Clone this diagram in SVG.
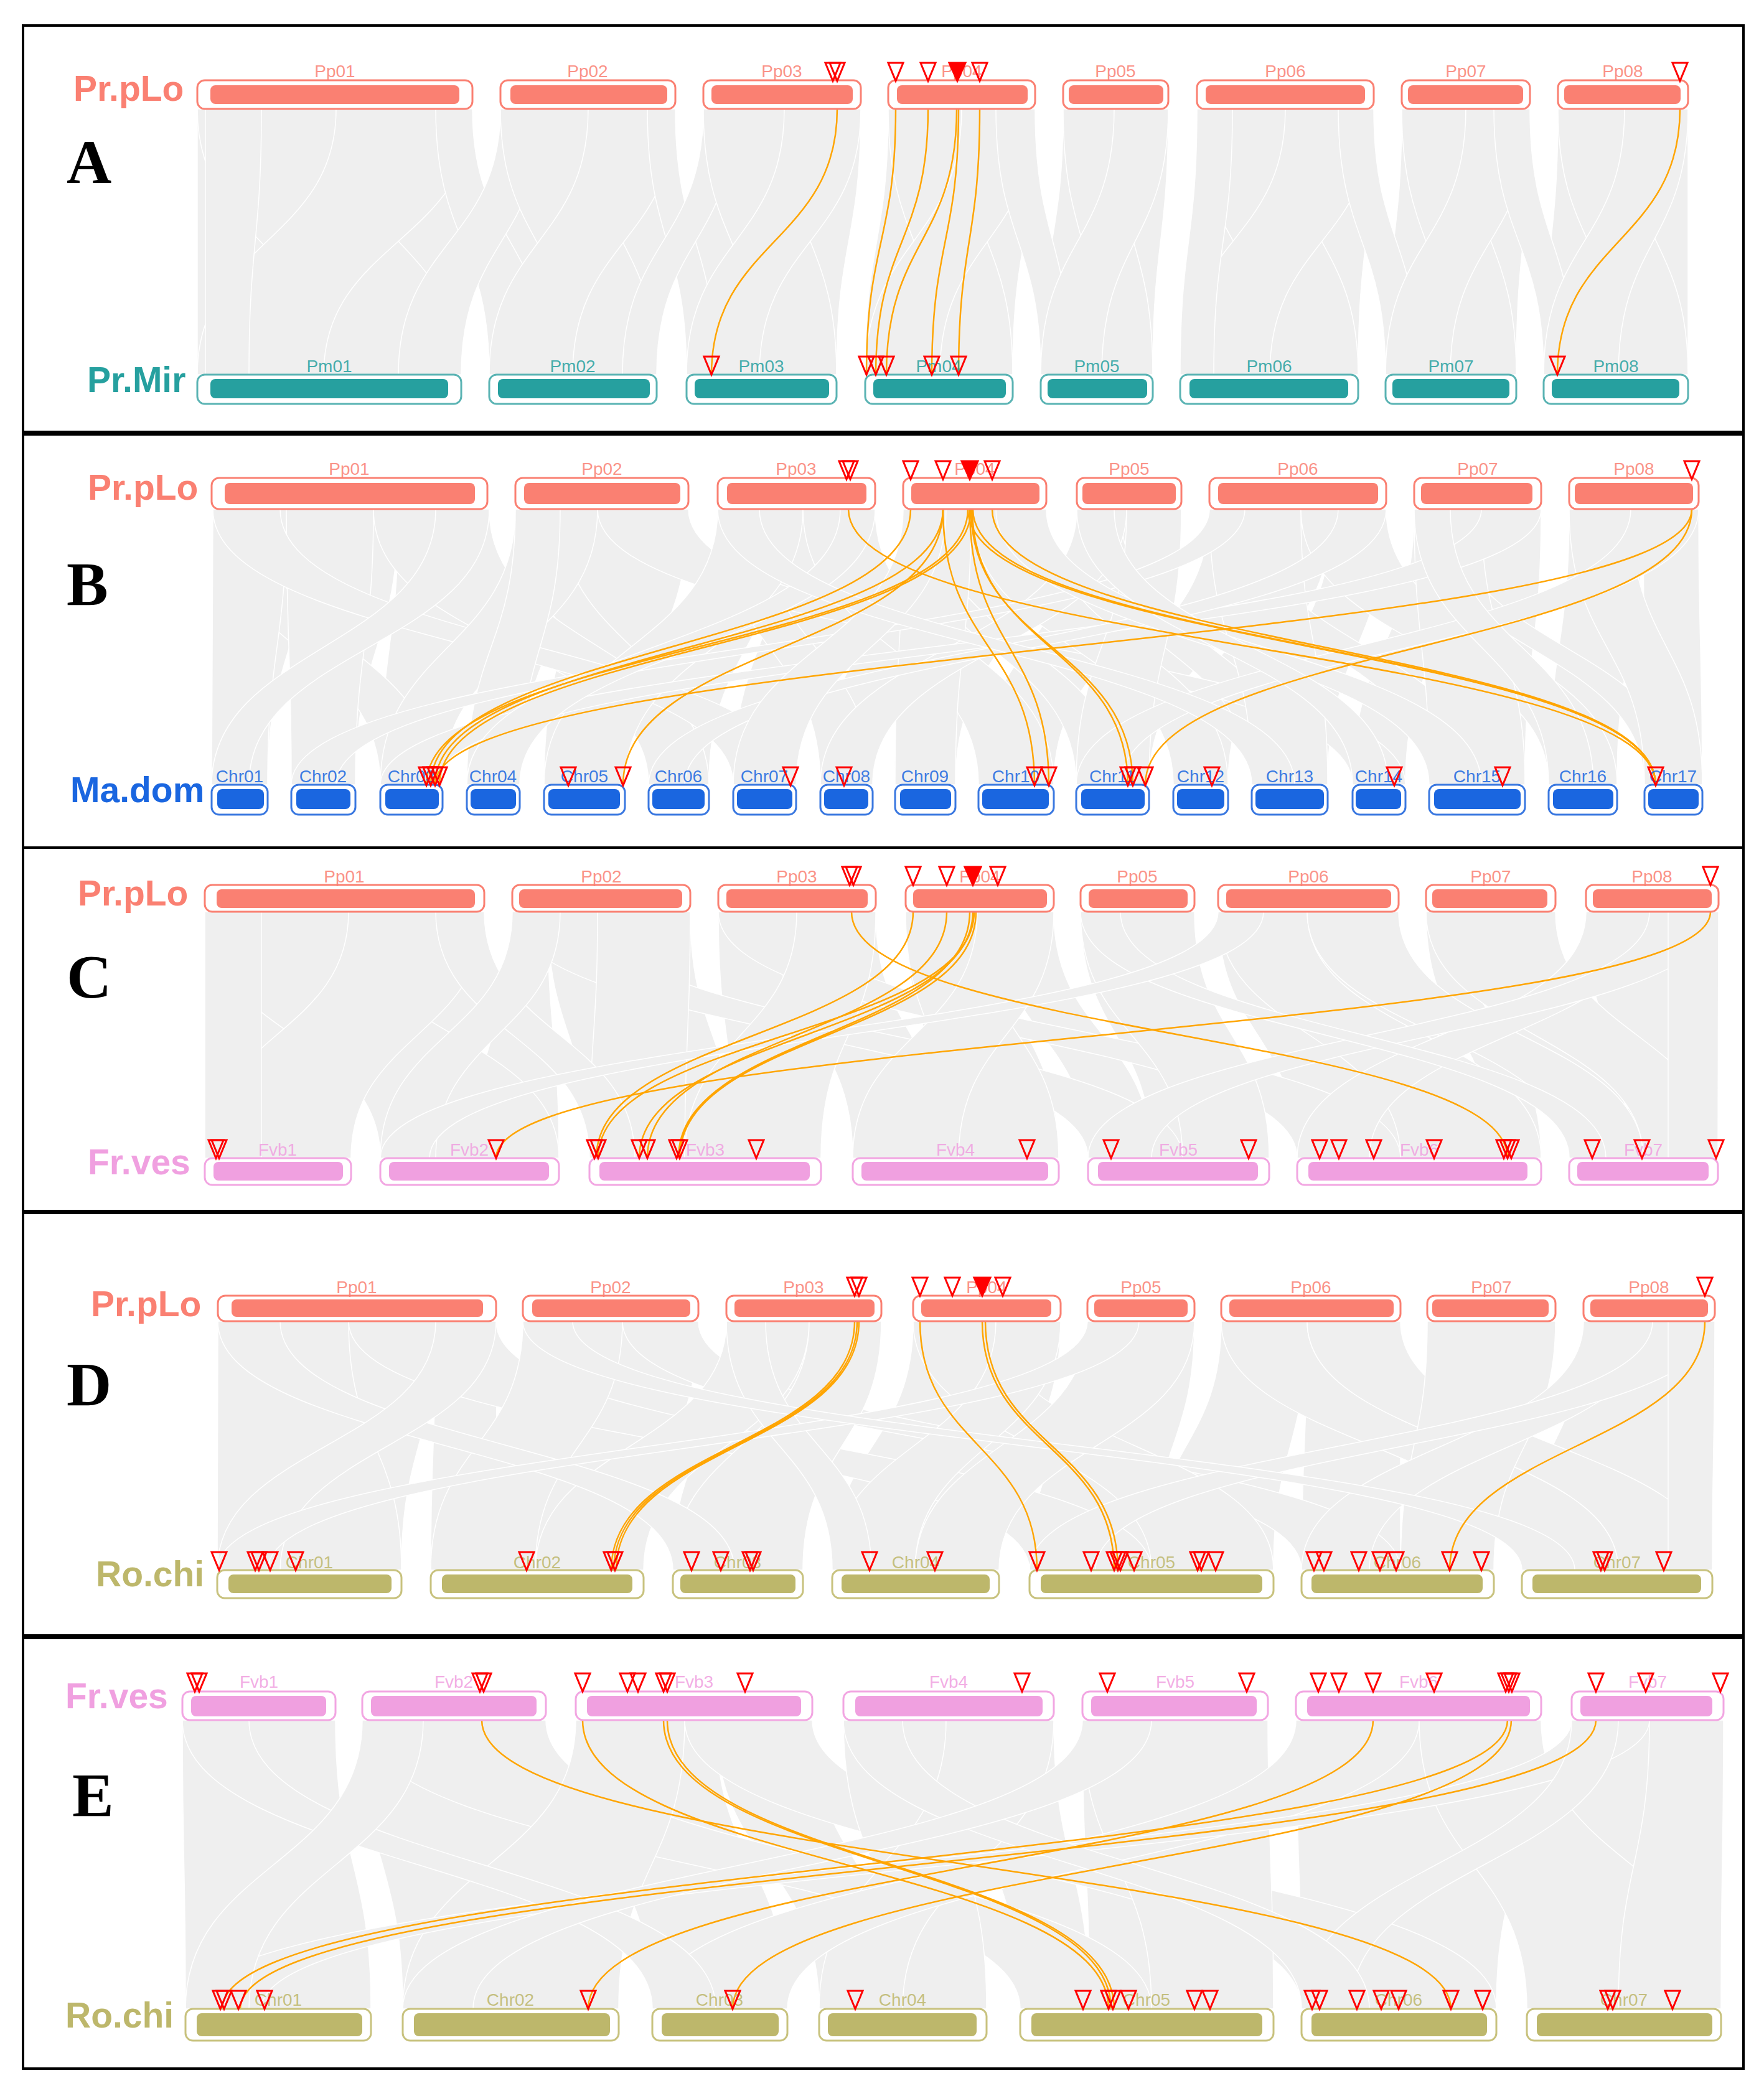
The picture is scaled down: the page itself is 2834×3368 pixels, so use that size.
<svg xmlns="http://www.w3.org/2000/svg" xmlns:xlink="http://www.w3.org/1999/xlink" width="2834" height="3368" viewBox="0 0 2834 3368">
<style>
.rib{fill:#efefef;stroke:#fff;stroke-width:1.5}
.ol{fill:none;stroke:#FFA500;stroke-width:2.5}
.box{fill:none;stroke:#000;stroke-width:4}
.pl{font-family:"Liberation Serif","Times New Roman",serif;font-weight:bold;font-size:100px;fill:#000}
.sp{font-family:"Liberation Sans",Arial,sans-serif;font-weight:bold;font-size:57px}
.o{fill:#fff;stroke-width:3}
text.cl{font-family:"Liberation Sans",Arial,sans-serif;font-size:28px;text-anchor:middle;fill-opacity:0.85}
.pp .o{stroke:#FA8072}.pp .i,.pp text{fill:#FA8072}
.pm .o{stroke:#5AB3B3}.pm .i,.pm text{fill:#26A09F}
.md .o{stroke:#3A78E0}.md .i,.md text{fill:#1A66E0}
.fv .o{stroke:#F2A6E2}.fv .i,.fv text{fill:#F0A0E0}
.rc .o{stroke:#C8C27E}.rc .i,.rc text{fill:#BDB76B}
</style>
<defs>
<path id="t" d="M-12,-29H12L0,0Z" fill="none" stroke="#f00" stroke-width="3"/>
<path id="tf" d="M-13,-29H13L0,0Z" fill="#f00" stroke="#f00" stroke-width="3"/>
</defs>
<rect width="2834" height="3368" fill="#fff"/>

<g id="ribbons">
<g id="ribbons-A">
<path class="rib" d="M317,175C317,388 317,388 317,602L741,602C741,388 759,388 759,175Z"/>
<path class="rib" d="M804,175C804,388 786,388 786,602L1055,602C1055,388 1085,388 1085,175Z"/>
<path class="rib" d="M1130,175C1130,388 1103,388 1103,602L1344,602C1344,388 1383,388 1383,175Z"/>
<path class="rib" d="M1427,175C1427,388 1390,388 1390,602L1627,602C1627,388 1663,388 1663,175Z"/>
<path class="rib" d="M1708,175C1708,388 1672,388 1672,602L1852,602C1852,388 1877,388 1877,175Z"/>
<path class="rib" d="M1923,175C1923,388 1896,388 1896,602L2182,602C2182,388 2207,388 2207,175Z"/>
<path class="rib" d="M2252,175C2252,388 2226,388 2226,602L2436,602C2436,388 2458,388 2458,175Z"/>
<path class="rib" d="M2503,175C2503,388 2480,388 2480,602L2712,602C2712,388 2712,388 2712,175Z"/>
<path class="rib" d="M317,175C317,388 520,388 520,602L741,602C741,388 540,388 540,175Z"/>
<path class="rib" d="M540,175C540,388 317,388 317,602L520,602C520,388 759,388 759,175Z"/>
<path class="rib" d="M330,175C330,388 330,388 330,602L400,602C400,388 420,388 420,175Z"/>
<path class="rib" d="M700,175C700,388 786,388 786,602L880,602C880,388 759,388 759,175Z"/>
<path class="rib" d="M804,175C804,388 640,388 640,602L741,602C741,388 870,388 870,175Z"/>
<path class="rib" d="M804,175C804,388 920,388 920,602L1055,602C1055,388 945,388 945,175Z"/>
<path class="rib" d="M945,175C945,388 786,388 786,602L920,602C920,388 1085,388 1085,175Z"/>
<path class="rib" d="M1040,175C1040,388 1103,388 1103,602L1150,602C1150,388 1085,388 1085,175Z"/>
<path class="rib" d="M1130,175C1130,388 1000,388 1000,602L1055,602C1055,388 1180,388 1180,175Z"/>
<path class="rib" d="M1130,175C1130,388 1220,388 1220,602L1344,602C1344,388 1260,388 1260,175Z"/>
<path class="rib" d="M1260,175C1260,388 1103,388 1103,602L1220,602C1220,388 1383,388 1383,175Z"/>
<path class="rib" d="M1427,175C1427,388 1510,388 1510,602L1627,602C1627,388 1545,388 1545,175Z"/>
<path class="rib" d="M1545,175C1545,388 1390,388 1390,602L1510,602C1510,388 1663,388 1663,175Z"/>
<path class="rib" d="M1600,175C1600,388 1672,388 1672,602L1720,602C1720,388 1663,388 1663,175Z"/>
<path class="rib" d="M1708,175C1708,388 1770,388 1770,602L1852,602C1852,388 1790,388 1790,175Z"/>
<path class="rib" d="M1790,175C1790,388 1672,388 1672,602L1770,602C1770,388 1877,388 1877,175Z"/>
<path class="rib" d="M1923,175C1923,388 2040,388 2040,602L2182,602C2182,388 2065,388 2065,175Z"/>
<path class="rib" d="M2065,175C2065,388 1896,388 1896,602L2040,602C2040,388 2207,388 2207,175Z"/>
<path class="rib" d="M1923,175C1923,388 1896,388 1896,602L1950,602C1950,388 1980,388 1980,175Z"/>
<path class="rib" d="M2150,175C2150,388 2226,388 2226,602L2280,602C2280,388 2207,388 2207,175Z"/>
<path class="rib" d="M2252,175C2252,388 2330,388 2330,602L2436,602C2436,388 2355,388 2355,175Z"/>
<path class="rib" d="M2355,175C2355,388 2226,388 2226,602L2330,602C2330,388 2458,388 2458,175Z"/>
<path class="rib" d="M2400,175C2400,388 2480,388 2480,602L2530,602C2530,388 2458,388 2458,175Z"/>
<path class="rib" d="M2503,175C2503,388 2600,388 2600,602L2712,602C2712,388 2610,388 2610,175Z"/>
<path class="rib" d="M2610,175C2610,388 2480,388 2480,602L2600,602C2600,388 2712,388 2712,175Z"/>
</g>
<g id="ribbons-B">
<path class="rib" d="M360,818C360,1040 340,1040 340,1261L430,1261C430,1040 500,1040 500,818Z"/>
<path class="rib" d="M500,818C500,1040 468,1040 468,1261L571,1261C571,1040 640,1040 640,818Z"/>
<path class="rib" d="M640,818C640,1040 611,1040 611,1261L711,1261C711,1040 783,1040 783,818Z"/>
<path class="rib" d="M828,818C828,1040 750,1040 750,1261L835,1261C835,1040 930,1040 930,818Z"/>
<path class="rib" d="M930,818C930,1040 874,1040 874,1261L1004,1261C1004,1040 1106,1040 1106,818Z"/>
<path class="rib" d="M1153,818C1153,1040 1042,1040 1042,1261L1139,1261C1139,1040 1260,1040 1260,818Z"/>
<path class="rib" d="M1260,818C1260,1040 1178,1040 1178,1261L1279,1261C1279,1040 1406,1040 1406,818Z"/>
<path class="rib" d="M1451,818C1451,1040 1318,1040 1318,1261L1402,1261C1402,1040 1540,1040 1540,818Z"/>
<path class="rib" d="M1540,818C1540,1040 1438,1040 1438,1261L1535,1261C1535,1040 1681,1040 1681,818Z"/>
<path class="rib" d="M1730,818C1730,1040 1572,1040 1572,1261L1693,1261C1693,1040 1898,1040 1898,818Z"/>
<path class="rib" d="M1943,818C1943,1040 1729,1040 1729,1261L1846,1261C1846,1040 2060,1040 2060,818Z"/>
<path class="rib" d="M2060,818C2060,1040 1885,1040 1885,1261L1973,1261C1973,1040 2140,1040 2140,818Z"/>
<path class="rib" d="M2140,818C2140,1040 2011,1040 2011,1261L2133,1261C2133,1040 2227,1040 2227,818Z"/>
<path class="rib" d="M2272,818C2272,1040 2173,1040 2173,1261L2258,1261C2258,1040 2360,1040 2360,818Z"/>
<path class="rib" d="M2360,818C2360,1040 2296,1040 2296,1261L2450,1261C2450,1040 2476,1040 2476,818Z"/>
<path class="rib" d="M2521,818C2521,1040 2488,1040 2488,1261L2598,1261C2598,1040 2640,1040 2640,818Z"/>
<path class="rib" d="M2640,818C2640,1040 2642,1040 2642,1261L2735,1261C2735,1040 2729,1040 2729,818Z"/>
<path class="rib" d="M342,818C342,1040 611,1040 611,1261L700,1261C700,1040 420,1040 420,818Z"/>
<path class="rib" d="M828,818C828,1040 1042,1040 1042,1261L1130,1261C1130,1040 900,1040 900,818Z"/>
<path class="rib" d="M1153,818C1153,1040 1318,1040 1318,1261L1400,1261C1400,1040 1220,1040 1220,818Z"/>
<path class="rib" d="M1451,818C1451,1040 1729,1040 1729,1261L1800,1261C1800,1040 1500,1040 1500,818Z"/>
<path class="rib" d="M1730,818C1730,1040 2011,1040 2011,1261L2090,1261C2090,1040 1800,1040 1800,818Z"/>
<path class="rib" d="M1943,818C1943,1040 2296,1040 2296,1261L2380,1261C2380,1040 2010,1040 2010,818Z"/>
<path class="rib" d="M2272,818C2272,1040 2642,1040 2642,1261L2700,1261C2700,1040 2330,1040 2330,818Z"/>
<path class="rib" d="M342,818C342,1040 340,1040 340,1261L430,1261C430,1040 460,1040 460,818Z"/>
<path class="rib" d="M460,818C460,1040 468,1040 468,1261L571,1261C571,1040 600,1040 600,818Z"/>
<path class="rib" d="M600,818C600,1040 1042,1040 1042,1261L1139,1261C1139,1040 786,1040 786,818Z"/>
<path class="rib" d="M342,818C342,1040 1178,1040 1178,1261L1279,1261C1279,1040 450,1040 450,818Z"/>
<path class="rib" d="M828,818C828,1040 611,1040 611,1261L711,1261C711,1040 960,1040 960,818Z"/>
<path class="rib" d="M960,818C960,1040 2173,1040 2173,1261L2258,1261C2258,1040 1106,1040 1106,818Z"/>
<path class="rib" d="M828,818C828,1040 750,1040 750,1261L835,1261C835,1040 900,1040 900,818Z"/>
<path class="rib" d="M1153,818C1153,1040 874,1040 874,1261L1004,1261C1004,1040 1290,1040 1290,818Z"/>
<path class="rib" d="M1290,818C1290,1040 1572,1040 1572,1261L1693,1261C1693,1040 1406,1040 1406,818Z"/>
<path class="rib" d="M1451,818C1451,1040 1438,1040 1438,1261L1535,1261C1535,1040 1560,1040 1560,818Z"/>
<path class="rib" d="M1560,818C1560,1040 1885,1040 1885,1261L1973,1261C1973,1040 1681,1040 1681,818Z"/>
<path class="rib" d="M1730,818C1730,1040 1318,1040 1318,1261L1402,1261C1402,1040 1810,1040 1810,818Z"/>
<path class="rib" d="M1810,818C1810,1040 1729,1040 1729,1261L1846,1261C1846,1040 1898,1040 1898,818Z"/>
<path class="rib" d="M1943,818C1943,1040 2011,1040 2011,1261L2133,1261C2133,1040 2090,1040 2090,818Z"/>
<path class="rib" d="M2090,818C2090,1040 2488,1040 2488,1261L2598,1261C2598,1040 2227,1040 2227,818Z"/>
<path class="rib" d="M1943,818C1943,1040 468,1040 468,1261L540,1261C540,1040 2000,1040 2000,818Z"/>
<path class="rib" d="M2272,818C2272,1040 2296,1040 2296,1261L2450,1261C2450,1040 2380,1040 2380,818Z"/>
<path class="rib" d="M2380,818C2380,1040 611,1040 611,1261L700,1261C700,1040 2476,1040 2476,818Z"/>
<path class="rib" d="M2521,818C2521,1040 2642,1040 2642,1261L2735,1261C2735,1040 2620,1040 2620,818Z"/>
<path class="rib" d="M2620,818C2620,1040 1729,1040 1729,1261L1800,1261C1800,1040 2729,1040 2729,818Z"/>
<path class="rib" d="M700,818C700,1040 340,1040 340,1261L400,1261C400,1040 786,1040 786,818Z"/>
<path class="rib" d="M1350,818C1350,1040 750,1040 750,1261L835,1261C835,1040 1406,1040 1406,818Z"/>
<path class="rib" d="M2150,818C2150,1040 1042,1040 1042,1261L1100,1261C1100,1040 2227,1040 2227,818Z"/>
<path class="rib" d="M1600,818C1600,1040 2296,1040 2296,1261L2380,1261C2380,1040 1681,1040 1681,818Z"/>
<path class="rib" d="M1451,818C1451,1040 1178,1040 1178,1261L1279,1261C1279,1040 1520,1040 1520,818Z"/>
<path class="rib" d="M2272,818C2272,1040 2488,1040 2488,1261L2560,1261C2560,1040 2330,1040 2330,818Z"/>
<path class="rib" d="M1153,818C1153,1040 2011,1040 2011,1261L2080,1261C2080,1040 1220,1040 1220,818Z"/>
<path class="rib" d="M1730,818C1730,1040 2173,1040 2173,1261L2230,1261C2230,1040 1790,1040 1790,818Z"/>
</g>
<g id="ribbons-C">
<path class="rib" d="M329,1465C329,1663 329,1663 329,1861L564,1861C564,1663 560,1663 560,1465Z"/>
<path class="rib" d="M600,1465C600,1663 611,1663 611,1861L760,1861C760,1663 778,1663 778,1465Z"/>
<path class="rib" d="M823,1465C823,1663 760,1663 760,1861L898,1861C898,1663 880,1663 880,1465Z"/>
<path class="rib" d="M880,1465C880,1663 947,1663 947,1861L1180,1861C1180,1663 1109,1663 1109,1465Z"/>
<path class="rib" d="M1154,1465C1154,1663 1180,1663 1180,1861L1319,1861C1319,1663 1250,1663 1250,1465Z"/>
<path class="rib" d="M1250,1465C1250,1663 1370,1663 1370,1861L1520,1861C1520,1663 1407,1663 1407,1465Z"/>
<path class="rib" d="M1455,1465C1455,1663 1520,1663 1520,1861L1701,1861C1701,1663 1600,1663 1600,1465Z"/>
<path class="rib" d="M1600,1465C1600,1663 1748,1663 1748,1861L1850,1861C1850,1663 1693,1663 1693,1465Z"/>
<path class="rib" d="M1736,1465C1736,1663 1850,1663 1850,1861L2039,1861C2039,1663 1919,1663 1919,1465Z"/>
<path class="rib" d="M1957,1465C1957,1663 2084,1663 2084,1861L2400,1861C2400,1663 2247,1663 2247,1465Z"/>
<path class="rib" d="M2291,1465C2291,1663 2400,1663 2400,1861L2476,1861C2476,1663 2350,1663 2350,1465Z"/>
<path class="rib" d="M2350,1465C2350,1663 2521,1663 2521,1861L2620,1861C2620,1663 2499,1663 2499,1465Z"/>
<path class="rib" d="M2548,1465C2548,1663 2620,1663 2620,1861L2760,1861C2760,1663 2761,1663 2761,1465Z"/>
<path class="rib" d="M329,1465C329,1663 611,1663 611,1861L898,1861C898,1663 560,1663 560,1465Z"/>
<path class="rib" d="M560,1465C560,1663 329,1663 329,1861L564,1861C564,1663 778,1663 778,1465Z"/>
<path class="rib" d="M823,1465C823,1663 1748,1663 1748,1861L1900,1861C1900,1663 960,1663 960,1465Z"/>
<path class="rib" d="M960,1465C960,1663 947,1663 947,1861L1100,1861C1100,1663 1109,1663 1109,1465Z"/>
<path class="rib" d="M1154,1465C1154,1663 2084,1663 2084,1861L2250,1861C2250,1663 1280,1663 1280,1465Z"/>
<path class="rib" d="M1280,1465C1280,1663 1100,1663 1100,1861L1319,1861C1319,1663 1407,1663 1407,1465Z"/>
<path class="rib" d="M1455,1465C1455,1663 1540,1663 1540,1861L1701,1861C1701,1663 1570,1663 1570,1465Z"/>
<path class="rib" d="M1570,1465C1570,1663 1370,1663 1370,1861L1540,1861C1540,1663 1693,1663 1693,1465Z"/>
<path class="rib" d="M1736,1465C1736,1663 1900,1663 1900,1861L2039,1861C2039,1663 1919,1663 1919,1465Z"/>
<path class="rib" d="M1957,1465C1957,1663 2250,1663 2250,1861L2476,1861C2476,1663 2100,1663 2100,1465Z"/>
<path class="rib" d="M2100,1465C2100,1663 2521,1663 2521,1861L2640,1861C2640,1663 2247,1663 2247,1465Z"/>
<path class="rib" d="M2291,1465C2291,1663 2640,1663 2640,1861L2760,1861C2760,1663 2499,1663 2499,1465Z"/>
<path class="rib" d="M2548,1465C2548,1663 2084,1663 2084,1861L2200,1861C2200,1663 2650,1663 2650,1465Z"/>
<path class="rib" d="M2650,1465C2650,1663 1748,1663 1748,1861L1850,1861C1850,1663 2761,1663 2761,1465Z"/>
<path class="rib" d="M329,1465C329,1663 329,1663 329,1861L420,1861C420,1663 420,1663 420,1465Z"/>
<path class="rib" d="M700,1465C700,1663 947,1663 947,1861L1020,1861C1020,1663 778,1663 778,1465Z"/>
<path class="rib" d="M1736,1465C1736,1663 2521,1663 2521,1861L2580,1861C2580,1663 1800,1663 1800,1465Z"/>
<path class="rib" d="M2680,1465C2680,1663 2680,1663 2680,1861L2760,1861C2760,1663 2761,1663 2761,1465Z"/>
<path class="rib" d="M823,1465C823,1663 611,1663 611,1861L700,1861C700,1663 900,1663 900,1465Z"/>
<path class="rib" d="M1957,1465C1957,1663 611,1663 611,1861L690,1861C690,1663 2030,1663 2030,1465Z"/>
</g>
<g id="ribbons-D">
<path class="rib" d="M350,2123C350,2323 349,2323 349,2523L645,2523C645,2323 700,2323 700,2123Z"/>
<path class="rib" d="M700,2123C700,2323 692,2323 692,2523L800,2523C800,2323 797,2323 797,2123Z"/>
<path class="rib" d="M840,2123C840,2323 800,2323 800,2523L1034,2523C1034,2323 1122,2323 1122,2123Z"/>
<path class="rib" d="M1167,2123C1167,2323 1081,2323 1081,2523L1290,2523C1290,2323 1416,2323 1416,2123Z"/>
<path class="rib" d="M1467,2123C1467,2323 1337,2323 1337,2523L1605,2523C1605,2323 1704,2323 1704,2123Z"/>
<path class="rib" d="M1747,2123C1747,2323 1654,2323 1654,2523L1850,2523C1850,2323 1919,2323 1919,2123Z"/>
<path class="rib" d="M1962,2123C1962,2323 1850,2323 1850,2523L2046,2523C2046,2323 2100,2323 2100,2123Z"/>
<path class="rib" d="M2100,2123C2100,2323 2091,2323 2091,2523L2250,2523C2250,2323 2250,2323 2250,2123Z"/>
<path class="rib" d="M2293,2123C2293,2323 2250,2323 2250,2523L2400,2523C2400,2323 2499,2323 2499,2123Z"/>
<path class="rib" d="M2544,2123C2544,2323 2445,2323 2445,2523L2751,2523C2751,2323 2755,2323 2755,2123Z"/>
<path class="rib" d="M350,2123C350,2323 349,2323 349,2523L645,2523C645,2323 560,2323 560,2123Z"/>
<path class="rib" d="M560,2123C560,2323 1654,2323 1654,2523L1850,2523C1850,2323 797,2323 797,2123Z"/>
<path class="rib" d="M840,2123C840,2323 692,2323 692,2523L860,2523C860,2323 1000,2323 1000,2123Z"/>
<path class="rib" d="M1000,2123C1000,2323 2091,2323 2091,2523L2250,2523C2250,2323 1122,2323 1122,2123Z"/>
<path class="rib" d="M1167,2123C1167,2323 860,2323 860,2523L1034,2523C1034,2323 1300,2323 1300,2123Z"/>
<path class="rib" d="M1300,2123C1300,2323 1081,2323 1081,2523L1290,2523C1290,2323 1416,2323 1416,2123Z"/>
<path class="rib" d="M1467,2123C1467,2323 1850,2323 1850,2523L2046,2523C2046,2323 1600,2323 1600,2123Z"/>
<path class="rib" d="M1600,2123C1600,2323 1337,2323 1337,2523L1470,2523C1470,2323 1704,2323 1704,2123Z"/>
<path class="rib" d="M1747,2123C1747,2323 1470,2323 1470,2523L1605,2523C1605,2323 1919,2323 1919,2123Z"/>
<path class="rib" d="M1962,2123C1962,2323 2445,2323 2445,2523L2600,2523C2600,2323 2100,2323 2100,2123Z"/>
<path class="rib" d="M2100,2123C2100,2323 2600,2323 2600,2523L2751,2523C2751,2323 2250,2323 2250,2123Z"/>
<path class="rib" d="M2293,2123C2293,2323 2250,2323 2250,2523L2400,2523C2400,2323 2499,2323 2499,2123Z"/>
<path class="rib" d="M2544,2123C2544,2323 2091,2323 2091,2523L2200,2523C2200,2323 2655,2323 2655,2123Z"/>
<path class="rib" d="M2655,2123C2655,2323 1654,2323 1654,2523L1760,2523C1760,2323 2755,2323 2755,2123Z"/>
<path class="rib" d="M350,2123C350,2323 1081,2323 1081,2523L1180,2523C1180,2323 450,2323 450,2123Z"/>
<path class="rib" d="M700,2123C700,2323 349,2323 349,2523L450,2523C450,2323 797,2323 797,2123Z"/>
<path class="rib" d="M2680,2123C2680,2323 2680,2323 2680,2523L2751,2523C2751,2323 2755,2323 2755,2123Z"/>
<path class="rib" d="M1167,2123C1167,2323 1337,2323 1337,2523L1400,2523C1400,2323 1230,2323 1230,2123Z"/>
<path class="rib" d="M1747,2123C1747,2323 349,2323 349,2523L430,2523C430,2323 1830,2323 1830,2123Z"/>
<path class="rib" d="M840,2123C840,2323 2445,2323 2445,2523L2530,2523C2530,2323 920,2323 920,2123Z"/>
</g>
<g id="ribbons-E">
<path class="rib" d="M582,2764C582,2996 647,2996 647,3228L994,3228C994,2996 877,2996 877,2764Z"/>
<path class="rib" d="M925,2764C925,2996 1048,2996 1048,3228L1265,3228C1265,2996 1150,2996 1150,2764Z"/>
<path class="rib" d="M1150,2764C1150,2996 1316,2996 1316,3228L1450,3228C1450,2996 1305,2996 1305,2764Z"/>
<path class="rib" d="M1355,2764C1355,2996 1450,2996 1450,3228L1585,3228C1585,2996 1550,2996 1550,2764Z"/>
<path class="rib" d="M1550,2764C1550,2996 1639,2996 1639,3228L1750,3228C1750,2996 1693,2996 1693,2764Z"/>
<path class="rib" d="M1739,2764C1739,2996 1750,2996 1750,3228L2046,3228C2046,2996 2037,2996 2037,2764Z"/>
<path class="rib" d="M2082,2764C2082,2996 2091,2996 2091,3228L2404,3228C2404,2996 2476,2996 2476,2764Z"/>
<path class="rib" d="M2525,2764C2525,2996 2453,2996 2453,3228L2765,3228C2765,2996 2769,2996 2769,2764Z"/>
<path class="rib" d="M293,2764C293,2996 298,2996 298,3228L596,3228C596,2996 539,2996 539,2764Z"/>
<path class="rib" d="M582,2764C582,2996 1639,2996 1639,3228L1850,3228C1850,2996 877,2996 877,2764Z"/>
<path class="rib" d="M925,2764C925,2996 647,2996 647,3228L994,3228C994,2996 1100,2996 1100,2764Z"/>
<path class="rib" d="M1100,2764C1100,2996 2091,2996 2091,3228L2404,3228C2404,2996 1305,2996 1305,2764Z"/>
<path class="rib" d="M1355,2764C1355,2996 1450,2996 1450,3228L1585,3228C1585,2996 1520,2996 1520,2764Z"/>
<path class="rib" d="M1520,2764C1520,2996 1316,2996 1316,3228L1450,3228C1450,2996 1693,2996 1693,2764Z"/>
<path class="rib" d="M1739,2764C1739,2996 1850,2996 1850,3228L2046,3228C2046,2996 2037,2996 2037,2764Z"/>
<path class="rib" d="M2082,2764C2082,2996 1048,2996 1048,3228L1265,3228C1265,2996 2280,2996 2280,2764Z"/>
<path class="rib" d="M2280,2764C2280,2996 2453,2996 2453,3228L2765,3228C2765,2996 2476,2996 2476,2764Z"/>
<path class="rib" d="M2525,2764C2525,2996 298,2996 298,3228L420,3228C420,2996 2650,2996 2650,2764Z"/>
<path class="rib" d="M2650,2764C2650,2996 2600,2996 2600,3228L2765,3228C2765,2996 2769,2996 2769,2764Z"/>
<path class="rib" d="M293,2764C293,2996 1048,2996 1048,3228L1150,3228C1150,2996 400,2996 400,2764Z"/>
<path class="rib" d="M2525,2764C2525,2996 2091,2996 2091,3228L2170,3228C2170,2996 2600,2996 2600,2764Z"/>
<path class="rib" d="M582,2764C582,2996 298,2996 298,3228L400,3228C400,2996 680,2996 680,2764Z"/>
<path class="rib" d="M1355,2764C1355,2996 2091,2996 2091,3228L2200,3228C2200,2996 1450,2996 1450,2764Z"/>
<path class="rib" d="M1739,2764C1739,2996 647,2996 647,3228L760,3228C760,2996 1850,2996 1850,2764Z"/>
</g>
</g>

<g id="connectors">
<path class="ol" d="M1345,175C1345,388 1143,388 1143,602"/>
<path class="ol" d="M1439,175C1439,388 1392,388 1392,602"/>
<path class="ol" d="M1491,175C1491,388 1407,388 1407,602"/>
<path class="ol" d="M1537,175C1537,388 1424,388 1424,602"/>
<path class="ol" d="M1540,175C1540,388 1497,388 1497,602"/>
<path class="ol" d="M1574,175C1574,388 1540,388 1540,602"/>
<path class="ol" d="M2699,175C2699,388 2502,388 2502,602"/>

<path class="ol" d="M1363,818C1363,1040 2660,1040 2660,1261"/>
<path class="ol" d="M1463,818C1463,1040 692,1040 692,1261"/>
<path class="ol" d="M1515,818C1515,1040 699,1040 699,1261"/>
<path class="ol" d="M1555,818C1555,1040 685,1040 685,1261"/>
<path class="ol" d="M1560,818C1560,1040 706,1040 706,1261"/>
<path class="ol" d="M1515,818C1515,1040 1001,1040 1001,1261"/>
<path class="ol" d="M1515,818C1515,1040 1662,1040 1662,1261"/>
<path class="ol" d="M1558,818C1558,1040 1685,1040 1685,1261"/>
<path class="ol" d="M1562,818C1562,1040 1812,1040 1812,1261"/>
<path class="ol" d="M1560,818C1560,1040 1820,1040 1820,1261"/>
<path class="ol" d="M1555,818C1555,1040 2660,1040 2660,1261"/>
<path class="ol" d="M1563,818C1563,1040 2660,1040 2660,1261"/>
<path class="ol" d="M1594,818C1594,1040 2660,1040 2660,1261"/>
<path class="ol" d="M2718,818C2718,1040 699,1040 699,1261"/>
<path class="ol" d="M2718,818C2718,1040 1840,1040 1840,1261"/>

<path class="ol" d="M1368,1465C1368,1663 2422,1663 2422,1861"/>
<path class="ol" d="M1467,1465C1467,1663 958,1663 958,1861"/>
<path class="ol" d="M1521,1465C1521,1663 1040,1663 1040,1861"/>
<path class="ol" d="M1558,1465C1558,1663 1090,1663 1090,1861"/>
<path class="ol" d="M1565,1465C1565,1663 961,1663 961,1861"/>
<path class="ol" d="M1568,1465C1568,1663 1092,1663 1092,1861"/>
<path class="ol" d="M1563,1465C1563,1663 1027,1663 1027,1861"/>
<path class="ol" d="M2748,1465C2748,1663 797,1663 797,1861"/>

<path class="ol" d="M1373,2123C1373,2323 982,2323 982,2523"/>
<path class="ol" d="M1377,2123C1377,2323 986,2323 986,2523"/>
<path class="ol" d="M1380,2123C1380,2323 990,2323 990,2523"/>
<path class="ol" d="M1478,2123C1478,2323 1666,2323 1666,2523"/>
<path class="ol" d="M1578,2123C1578,2323 1790,2323 1790,2523"/>
<path class="ol" d="M1583,2123C1583,2323 1796,2323 1796,2523"/>
<path class="ol" d="M2739,2123C2739,2323 2329,2323 2329,2523"/>

<path class="ol" d="M774,2764C774,2996 2331,2996 2331,3228"/>
<path class="ol" d="M936,2764C936,2996 1781,2996 1781,3228"/>
<path class="ol" d="M1066,2764C1066,2996 1785,2996 1785,3228"/>
<path class="ol" d="M1072,2764C1072,2996 1790,2996 1790,3228"/>
<path class="ol" d="M2206,2764C2206,2996 945,2996 945,3228"/>
<path class="ol" d="M2422,2764C2422,2996 357,2996 357,3228"/>
<path class="ol" d="M2428,2764C2428,2996 1177,2996 1177,3228"/>
<path class="ol" d="M2564,2764C2564,2996 386,2996 386,3228"/>
</g>

<g id="panel-frames">
<rect class="box" x="37" y="41" width="2764" height="653"/>
<rect class="box" x="37" y="698" width="2764" height="664"/>
<rect class="box" x="37" y="1362" width="2764" height="584"/>
<rect class="box" x="37" y="1949" width="2764" height="679"/>
<rect class="box" x="37" y="2632" width="2764" height="692"/>
</g>

<g id="panel-letters">
<text class="pl" x="107" y="294">A</text>
<text class="pl" x="107" y="972">B</text>
<text class="pl" x="107" y="1603">C</text>
<text class="pl" x="107" y="2258">D</text>
<text class="pl" x="116" y="2918">E</text>
</g>

<g id="species-labels">
<text class="sp" x="118" y="162" fill="#FA8072">Pr.pLo</text>
<text class="sp" x="140" y="630" fill="#26A09F">Pr.Mir</text>
<text class="sp" x="141" y="803" fill="#FA8072">Pr.pLo</text>
<text class="sp" x="113" y="1289" fill="#1A66E0">Ma.dom</text>
<text class="sp" x="125" y="1455" fill="#FA8072">Pr.pLo</text>
<text class="sp" x="141" y="1887" fill="#F0A0E0">Fr.ves</text>
<text class="sp" x="146" y="2115" fill="#FA8072">Pr.pLo</text>
<text class="sp" x="154" y="2549" fill="#BDB76B">Ro.chi</text>
<text class="sp" x="105" y="2745" fill="#F0A0E0">Fr.ves</text>
<text class="sp" x="105" y="3258" fill="#BDB76B">Ro.chi</text>
</g>

<g id="A-top" class="pp">
<g id="A-Pp01"><rect class="o" x="317" y="129" width="442" height="46" rx="12"/><rect class="i" x="338" y="137" width="400" height="30" rx="8"/><text class="cl" x="538" y="124">Pp01</text></g>
<g id="A-Pp02"><rect class="o" x="804" y="129" width="281" height="46" rx="12"/><rect class="i" x="820" y="137" width="252" height="30" rx="8"/><text class="cl" x="944" y="124">Pp02</text></g>
<g id="A-Pp03"><rect class="o" x="1130" y="129" width="253" height="46" rx="12"/><rect class="i" x="1143" y="137" width="227" height="30" rx="8"/><text class="cl" x="1256" y="124">Pp03</text></g>
<g id="A-Pp04"><rect class="o" x="1427" y="129" width="236" height="46" rx="12"/><rect class="i" x="1441" y="137" width="210" height="30" rx="8"/><text class="cl" x="1545" y="124">Pp04</text></g>
<g id="A-Pp05"><rect class="o" x="1708" y="129" width="169" height="46" rx="12"/><rect class="i" x="1717" y="137" width="152" height="30" rx="8"/><text class="cl" x="1792" y="124">Pp05</text></g>
<g id="A-Pp06"><rect class="o" x="1923" y="129" width="284" height="46" rx="12"/><rect class="i" x="1937" y="137" width="256" height="30" rx="8"/><text class="cl" x="2065" y="124">Pp06</text></g>
<g id="A-Pp07"><rect class="o" x="2252" y="129" width="206" height="46" rx="12"/><rect class="i" x="2262" y="137" width="185" height="30" rx="8"/><text class="cl" x="2355" y="124">Pp07</text></g>
<g id="A-Pp08"><rect class="o" x="2503" y="129" width="209" height="46" rx="12"/><rect class="i" x="2513" y="137" width="187" height="30" rx="8"/><text class="cl" x="2607" y="124">Pp08</text></g>
</g>
<g id="A-bottom" class="pm">
<g id="A-Pm01"><rect class="o" x="317" y="602" width="424" height="47" rx="12"/><rect class="i" x="338" y="609" width="382" height="31" rx="8"/><text class="cl" x="529" y="598">Pm01</text></g>
<g id="A-Pm02"><rect class="o" x="786" y="602" width="269" height="47" rx="12"/><rect class="i" x="800" y="609" width="244" height="31" rx="8"/><text class="cl" x="920" y="598">Pm02</text></g>
<g id="A-Pm03"><rect class="o" x="1103" y="602" width="241" height="47" rx="12"/><rect class="i" x="1116" y="609" width="216" height="31" rx="8"/><text class="cl" x="1223" y="598">Pm03</text></g>
<g id="A-Pm04"><rect class="o" x="1390" y="602" width="237" height="47" rx="12"/><rect class="i" x="1403" y="609" width="213" height="31" rx="8"/><text class="cl" x="1508" y="598">Pm04</text></g>
<g id="A-Pm05"><rect class="o" x="1672" y="602" width="180" height="47" rx="12"/><rect class="i" x="1683" y="609" width="160" height="31" rx="8"/><text class="cl" x="1762" y="598">Pm05</text></g>
<g id="A-Pm06"><rect class="o" x="1896" y="602" width="286" height="47" rx="12"/><rect class="i" x="1911" y="609" width="255" height="31" rx="8"/><text class="cl" x="2039" y="598">Pm06</text></g>
<g id="A-Pm07"><rect class="o" x="2226" y="602" width="210" height="47" rx="12"/><rect class="i" x="2237" y="609" width="188" height="31" rx="8"/><text class="cl" x="2331" y="598">Pm07</text></g>
<g id="A-Pm08"><rect class="o" x="2480" y="602" width="232" height="47" rx="12"/><rect class="i" x="2493" y="609" width="205" height="31" rx="8"/><text class="cl" x="2596" y="598">Pm08</text></g>
</g>

<g id="B-top" class="pp">
<g id="B-Pp01"><rect class="o" x="340" y="768" width="443" height="50" rx="12"/><rect class="i" x="361" y="776" width="402" height="34" rx="8"/><text class="cl" x="561" y="763">Pp01</text></g>
<g id="B-Pp02"><rect class="o" x="828" y="768" width="278" height="50" rx="12"/><rect class="i" x="842" y="776" width="251" height="34" rx="8"/><text class="cl" x="967" y="763">Pp02</text></g>
<g id="B-Pp03"><rect class="o" x="1153" y="768" width="253" height="50" rx="12"/><rect class="i" x="1168" y="776" width="224" height="34" rx="8"/><text class="cl" x="1279" y="763">Pp03</text></g>
<g id="B-Pp04"><rect class="o" x="1451" y="768" width="230" height="50" rx="12"/><rect class="i" x="1464" y="776" width="206" height="34" rx="8"/><text class="cl" x="1566" y="763">Pp04</text></g>
<g id="B-Pp05"><rect class="o" x="1730" y="768" width="168" height="50" rx="12"/><rect class="i" x="1739" y="776" width="150" height="34" rx="8"/><text class="cl" x="1814" y="763">Pp05</text></g>
<g id="B-Pp06"><rect class="o" x="1943" y="768" width="284" height="50" rx="12"/><rect class="i" x="1957" y="776" width="257" height="34" rx="8"/><text class="cl" x="2085" y="763">Pp06</text></g>
<g id="B-Pp07"><rect class="o" x="2272" y="768" width="204" height="50" rx="12"/><rect class="i" x="2283" y="776" width="179" height="34" rx="8"/><text class="cl" x="2374" y="763">Pp07</text></g>
<g id="B-Pp08"><rect class="o" x="2521" y="768" width="208" height="50" rx="12"/><rect class="i" x="2530" y="776" width="190" height="34" rx="8"/><text class="cl" x="2625" y="763">Pp08</text></g>
</g>
<g id="B-bottom" class="md">
<g id="B-Chr01"><rect class="o" x="340" y="1261" width="90" height="48" rx="12"/><rect class="i" x="349" y="1268" width="75" height="32" rx="8"/><text class="cl" x="385" y="1257">Chr01</text></g>
<g id="B-Chr02"><rect class="o" x="468" y="1261" width="103" height="48" rx="12"/><rect class="i" x="476" y="1268" width="87" height="32" rx="8"/><text class="cl" x="519" y="1257">Chr02</text></g>
<g id="B-Chr03"><rect class="o" x="611" y="1261" width="100" height="48" rx="12"/><rect class="i" x="619" y="1268" width="86" height="32" rx="8"/><text class="cl" x="661" y="1257">Chr03</text></g>
<g id="B-Chr04"><rect class="o" x="750" y="1261" width="85" height="48" rx="12"/><rect class="i" x="756" y="1268" width="73" height="32" rx="8"/><text class="cl" x="792" y="1257">Chr04</text></g>
<g id="B-Chr05"><rect class="o" x="874" y="1261" width="130" height="48" rx="12"/><rect class="i" x="881" y="1268" width="115" height="32" rx="8"/><text class="cl" x="939" y="1257">Chr05</text></g>
<g id="B-Chr06"><rect class="o" x="1042" y="1261" width="97" height="48" rx="12"/><rect class="i" x="1048" y="1268" width="84" height="32" rx="8"/><text class="cl" x="1090" y="1257">Chr06</text></g>
<g id="B-Chr07"><rect class="o" x="1178" y="1261" width="101" height="48" rx="12"/><rect class="i" x="1184" y="1268" width="89" height="32" rx="8"/><text class="cl" x="1228" y="1257">Chr07</text></g>
<g id="B-Chr08"><rect class="o" x="1318" y="1261" width="84" height="48" rx="12"/><rect class="i" x="1324" y="1268" width="71" height="32" rx="8"/><text class="cl" x="1360" y="1257">Chr08</text></g>
<g id="B-Chr09"><rect class="o" x="1438" y="1261" width="97" height="48" rx="12"/><rect class="i" x="1446" y="1268" width="82" height="32" rx="8"/><text class="cl" x="1486" y="1257">Chr09</text></g>
<g id="B-Chr10"><rect class="o" x="1572" y="1261" width="121" height="48" rx="12"/><rect class="i" x="1578" y="1268" width="107" height="32" rx="8"/><text class="cl" x="1632" y="1257">Chr10</text></g>
<g id="B-Chr11"><rect class="o" x="1729" y="1261" width="117" height="48" rx="12"/><rect class="i" x="1737" y="1268" width="102" height="32" rx="8"/><text class="cl" x="1787" y="1257">Chr11</text></g>
<g id="B-Chr12"><rect class="o" x="1885" y="1261" width="88" height="48" rx="12"/><rect class="i" x="1891" y="1268" width="76" height="32" rx="8"/><text class="cl" x="1929" y="1257">Chr12</text></g>
<g id="B-Chr13"><rect class="o" x="2011" y="1261" width="122" height="48" rx="12"/><rect class="i" x="2017" y="1268" width="110" height="32" rx="8"/><text class="cl" x="2072" y="1257">Chr13</text></g>
<g id="B-Chr14"><rect class="o" x="2173" y="1261" width="85" height="48" rx="12"/><rect class="i" x="2178" y="1268" width="73" height="32" rx="8"/><text class="cl" x="2215" y="1257">Chr14</text></g>
<g id="B-Chr15"><rect class="o" x="2296" y="1261" width="154" height="48" rx="12"/><rect class="i" x="2304" y="1268" width="139" height="32" rx="8"/><text class="cl" x="2373" y="1257">Chr15</text></g>
<g id="B-Chr16"><rect class="o" x="2488" y="1261" width="110" height="48" rx="12"/><rect class="i" x="2495" y="1268" width="97" height="32" rx="8"/><text class="cl" x="2543" y="1257">Chr16</text></g>
<g id="B-Chr17"><rect class="o" x="2642" y="1261" width="93" height="48" rx="12"/><rect class="i" x="2648" y="1268" width="81" height="32" rx="8"/><text class="cl" x="2688" y="1257">Chr17</text></g>
</g>

<g id="C-top" class="pp">
<g id="C-Pp01"><rect class="o" x="329" y="1422" width="449" height="43" rx="12"/><rect class="i" x="348" y="1429" width="415" height="30" rx="8"/><text class="cl" x="553" y="1418">Pp01</text></g>
<g id="C-Pp02"><rect class="o" x="823" y="1422" width="286" height="43" rx="12"/><rect class="i" x="834" y="1429" width="262" height="30" rx="8"/><text class="cl" x="966" y="1418">Pp02</text></g>
<g id="C-Pp03"><rect class="o" x="1154" y="1422" width="253" height="43" rx="12"/><rect class="i" x="1167" y="1429" width="227" height="30" rx="8"/><text class="cl" x="1280" y="1418">Pp03</text></g>
<g id="C-Pp04"><rect class="o" x="1455" y="1422" width="238" height="43" rx="12"/><rect class="i" x="1467" y="1429" width="215" height="30" rx="8"/><text class="cl" x="1574" y="1418">Pp04</text></g>
<g id="C-Pp05"><rect class="o" x="1736" y="1422" width="183" height="43" rx="12"/><rect class="i" x="1749" y="1429" width="159" height="30" rx="8"/><text class="cl" x="1827" y="1418">Pp05</text></g>
<g id="C-Pp06"><rect class="o" x="1957" y="1422" width="290" height="43" rx="12"/><rect class="i" x="1970" y="1429" width="265" height="30" rx="8"/><text class="cl" x="2102" y="1418">Pp06</text></g>
<g id="C-Pp07"><rect class="o" x="2291" y="1422" width="208" height="43" rx="12"/><rect class="i" x="2301" y="1429" width="185" height="30" rx="8"/><text class="cl" x="2395" y="1418">Pp07</text></g>
<g id="C-Pp08"><rect class="o" x="2548" y="1422" width="213" height="43" rx="12"/><rect class="i" x="2559" y="1429" width="191" height="30" rx="8"/><text class="cl" x="2654" y="1418">Pp08</text></g>
</g>
<g id="C-bottom" class="fv">
<g id="C-Fvb1"><rect class="o" x="329" y="1861" width="235" height="43" rx="12"/><rect class="i" x="343" y="1867" width="208" height="30" rx="8"/><text class="cl" x="446" y="1857">Fvb1</text></g>
<g id="C-Fvb2"><rect class="o" x="611" y="1861" width="287" height="43" rx="12"/><rect class="i" x="625" y="1867" width="257" height="30" rx="8"/><text class="cl" x="754" y="1857">Fvb2</text></g>
<g id="C-Fvb3"><rect class="o" x="947" y="1861" width="372" height="43" rx="12"/><rect class="i" x="963" y="1867" width="338" height="30" rx="8"/><text class="cl" x="1133" y="1857">Fvb3</text></g>
<g id="C-Fvb4"><rect class="o" x="1370" y="1861" width="331" height="43" rx="12"/><rect class="i" x="1384" y="1867" width="300" height="30" rx="8"/><text class="cl" x="1535" y="1857">Fvb4</text></g>
<g id="C-Fvb5"><rect class="o" x="1748" y="1861" width="291" height="43" rx="12"/><rect class="i" x="1764" y="1867" width="257" height="30" rx="8"/><text class="cl" x="1893" y="1857">Fvb5</text></g>
<g id="C-Fvb6"><rect class="o" x="2084" y="1861" width="392" height="43" rx="12"/><rect class="i" x="2102" y="1867" width="352" height="30" rx="8"/><text class="cl" x="2280" y="1857">Fvb6</text></g>
<g id="C-Fvb7"><rect class="o" x="2521" y="1861" width="239" height="43" rx="12"/><rect class="i" x="2534" y="1867" width="211" height="30" rx="8"/><text class="cl" x="2640" y="1857">Fvb7</text></g>
</g>

<g id="D-top" class="pp">
<g id="D-Pp01"><rect class="o" x="350" y="2082" width="447" height="41" rx="12"/><rect class="i" x="372" y="2088" width="404" height="28" rx="8"/><text class="cl" x="573" y="2078">Pp01</text></g>
<g id="D-Pp02"><rect class="o" x="840" y="2082" width="282" height="41" rx="12"/><rect class="i" x="855" y="2088" width="254" height="28" rx="8"/><text class="cl" x="981" y="2078">Pp02</text></g>
<g id="D-Pp03"><rect class="o" x="1167" y="2082" width="249" height="41" rx="12"/><rect class="i" x="1180" y="2088" width="225" height="28" rx="8"/><text class="cl" x="1291" y="2078">Pp03</text></g>
<g id="D-Pp04"><rect class="o" x="1467" y="2082" width="237" height="41" rx="12"/><rect class="i" x="1480" y="2088" width="209" height="28" rx="8"/><text class="cl" x="1585" y="2078">Pp04</text></g>
<g id="D-Pp05"><rect class="o" x="1747" y="2082" width="172" height="41" rx="12"/><rect class="i" x="1758" y="2088" width="150" height="28" rx="8"/><text class="cl" x="1833" y="2078">Pp05</text></g>
<g id="D-Pp06"><rect class="o" x="1962" y="2082" width="288" height="41" rx="12"/><rect class="i" x="1975" y="2088" width="264" height="28" rx="8"/><text class="cl" x="2106" y="2078">Pp06</text></g>
<g id="D-Pp07"><rect class="o" x="2293" y="2082" width="206" height="41" rx="12"/><rect class="i" x="2301" y="2088" width="187" height="28" rx="8"/><text class="cl" x="2396" y="2078">Pp07</text></g>
<g id="D-Pp08"><rect class="o" x="2544" y="2082" width="211" height="41" rx="12"/><rect class="i" x="2555" y="2088" width="189" height="28" rx="8"/><text class="cl" x="2649" y="2078">Pp08</text></g>
</g>
<g id="D-bottom" class="rc">
<g id="D-Chr01"><rect class="o" x="349" y="2523" width="296" height="45" rx="12"/><rect class="i" x="367" y="2530" width="262" height="30" rx="8"/><text class="cl" x="497" y="2520">Chr01</text></g>
<g id="D-Chr02"><rect class="o" x="692" y="2523" width="342" height="45" rx="12"/><rect class="i" x="710" y="2530" width="306" height="30" rx="8"/><text class="cl" x="863" y="2520">Chr02</text></g>
<g id="D-Chr03"><rect class="o" x="1081" y="2523" width="209" height="45" rx="12"/><rect class="i" x="1093" y="2530" width="185" height="30" rx="8"/><text class="cl" x="1185" y="2520">Chr03</text></g>
<g id="D-Chr04"><rect class="o" x="1337" y="2523" width="268" height="45" rx="12"/><rect class="i" x="1352" y="2530" width="238" height="30" rx="8"/><text class="cl" x="1471" y="2520">Chr04</text></g>
<g id="D-Chr05"><rect class="o" x="1654" y="2523" width="392" height="45" rx="12"/><rect class="i" x="1672" y="2530" width="356" height="30" rx="8"/><text class="cl" x="1850" y="2520">Chr05</text></g>
<g id="D-Chr06"><rect class="o" x="2091" y="2523" width="309" height="45" rx="12"/><rect class="i" x="2107" y="2530" width="275" height="30" rx="8"/><text class="cl" x="2245" y="2520">Chr06</text></g>
<g id="D-Chr07"><rect class="o" x="2445" y="2523" width="306" height="45" rx="12"/><rect class="i" x="2462" y="2530" width="271" height="30" rx="8"/><text class="cl" x="2598" y="2520">Chr07</text></g>
</g>

<g id="E-top" class="fv">
<g id="E-Fvb1"><rect class="o" x="293" y="2718" width="246" height="46" rx="12"/><rect class="i" x="307" y="2725" width="217" height="33" rx="8"/><text class="cl" x="416" y="2712">Fvb1</text></g>
<g id="E-Fvb2"><rect class="o" x="582" y="2718" width="295" height="46" rx="12"/><rect class="i" x="596" y="2725" width="266" height="33" rx="8"/><text class="cl" x="729" y="2712">Fvb2</text></g>
<g id="E-Fvb3"><rect class="o" x="925" y="2718" width="380" height="46" rx="12"/><rect class="i" x="943" y="2725" width="344" height="33" rx="8"/><text class="cl" x="1115" y="2712">Fvb3</text></g>
<g id="E-Fvb4"><rect class="o" x="1355" y="2718" width="338" height="46" rx="12"/><rect class="i" x="1374" y="2725" width="301" height="33" rx="8"/><text class="cl" x="1524" y="2712">Fvb4</text></g>
<g id="E-Fvb5"><rect class="o" x="1739" y="2718" width="298" height="46" rx="12"/><rect class="i" x="1753" y="2725" width="266" height="33" rx="8"/><text class="cl" x="1888" y="2712">Fvb5</text></g>
<g id="E-Fvb6"><rect class="o" x="2082" y="2718" width="394" height="46" rx="12"/><rect class="i" x="2100" y="2725" width="358" height="33" rx="8"/><text class="cl" x="2279" y="2712">Fvb6</text></g>
<g id="E-Fvb7"><rect class="o" x="2525" y="2718" width="244" height="46" rx="12"/><rect class="i" x="2539" y="2725" width="212" height="33" rx="8"/><text class="cl" x="2647" y="2712">Fvb7</text></g>
</g>
<g id="E-bottom" class="rc">
<g id="E-Chr01"><rect class="o" x="298" y="3228" width="298" height="51" rx="12"/><rect class="i" x="316" y="3235" width="266" height="37" rx="8"/><text class="cl" x="447" y="3223">Chr01</text></g>
<g id="E-Chr02"><rect class="o" x="647" y="3228" width="347" height="51" rx="12"/><rect class="i" x="665" y="3235" width="315" height="37" rx="8"/><text class="cl" x="820" y="3223">Chr02</text></g>
<g id="E-Chr03"><rect class="o" x="1048" y="3228" width="217" height="51" rx="12"/><rect class="i" x="1063" y="3235" width="188" height="37" rx="8"/><text class="cl" x="1156" y="3223">Chr03</text></g>
<g id="E-Chr04"><rect class="o" x="1316" y="3228" width="269" height="51" rx="12"/><rect class="i" x="1330" y="3235" width="239" height="37" rx="8"/><text class="cl" x="1450" y="3223">Chr04</text></g>
<g id="E-Chr05"><rect class="o" x="1639" y="3228" width="407" height="51" rx="12"/><rect class="i" x="1657" y="3235" width="371" height="37" rx="8"/><text class="cl" x="1842" y="3223">Chr05</text></g>
<g id="E-Chr06"><rect class="o" x="2091" y="3228" width="313" height="51" rx="12"/><rect class="i" x="2107" y="3235" width="282" height="37" rx="8"/><text class="cl" x="2247" y="3223">Chr06</text></g>
<g id="E-Chr07"><rect class="o" x="2453" y="3228" width="312" height="51" rx="12"/><rect class="i" x="2469" y="3235" width="282" height="37" rx="8"/><text class="cl" x="2609" y="3223">Chr07</text></g>
</g>

<g id="gene-markers">
<g id="markers-A">
<use href="#t" x="1338" y="130"/><use href="#t" x="1345" y="130"/><use href="#t" x="1439" y="130"/><use href="#t" x="1491" y="130"/><use href="#tf" x="1538" y="130"/><use href="#t" x="1574" y="130"/><use href="#t" x="2699" y="130"/>
<use href="#t" x="1143" y="602"/><use href="#t" x="1392" y="602"/><use href="#t" x="1407" y="602"/><use href="#t" x="1424" y="602"/><use href="#t" x="1497" y="602"/><use href="#t" x="1540" y="602"/><use href="#t" x="2502" y="602"/>
</g>
<g id="markers-B">
<use href="#t" x="1360" y="770"/><use href="#t" x="1366" y="770"/><use href="#t" x="1463" y="770"/><use href="#t" x="1515" y="770"/><use href="#tf" x="1558" y="770"/><use href="#t" x="1594" y="770"/><use href="#t" x="2718" y="770"/>
<use href="#t" x="685" y="1262"/><use href="#t" x="692" y="1262"/><use href="#t" x="699" y="1262"/><use href="#t" x="706" y="1262"/><use href="#t" x="913" y="1262"/><use href="#t" x="1001" y="1262"/><use href="#t" x="1270" y="1262"/><use href="#t" x="1356" y="1262"/><use href="#t" x="1662" y="1262"/><use href="#t" x="1685" y="1262"/><use href="#t" x="1812" y="1262"/><use href="#t" x="1820" y="1262"/><use href="#t" x="1840" y="1262"/><use href="#t" x="1947" y="1262"/><use href="#t" x="2240" y="1262"/><use href="#t" x="2414" y="1262"/><use href="#t" x="2660" y="1262"/>
</g>
<g id="markers-C">
<use href="#t" x="1365" y="1422"/><use href="#t" x="1371" y="1422"/><use href="#t" x="1467" y="1422"/><use href="#t" x="1521" y="1422"/><use href="#tf" x="1563" y="1422"/><use href="#t" x="1603" y="1422"/><use href="#t" x="2748" y="1422"/>
<use href="#t" x="347" y="1861"/><use href="#t" x="352" y="1861"/><use href="#t" x="797" y="1861"/><use href="#t" x="955" y="1861"/><use href="#t" x="961" y="1861"/><use href="#t" x="1027" y="1861"/><use href="#t" x="1040" y="1861"/><use href="#t" x="1087" y="1861"/><use href="#t" x="1092" y="1861"/><use href="#t" x="1215" y="1861"/><use href="#t" x="1650" y="1861"/><use href="#t" x="1785" y="1861"/><use href="#t" x="2006" y="1861"/><use href="#t" x="2120" y="1861"/><use href="#t" x="2151" y="1861"/><use href="#t" x="2207" y="1861"/><use href="#t" x="2304" y="1861"/><use href="#t" x="2416" y="1861"/><use href="#t" x="2422" y="1861"/><use href="#t" x="2428" y="1861"/><use href="#t" x="2558" y="1861"/><use href="#t" x="2638" y="1861"/><use href="#t" x="2757" y="1861"/>
</g>
<g id="markers-D">
<use href="#t" x="1373" y="2082"/><use href="#t" x="1380" y="2082"/><use href="#t" x="1478" y="2082"/><use href="#t" x="1530" y="2082"/><use href="#tf" x="1578" y="2082"/><use href="#t" x="1611" y="2082"/><use href="#t" x="2739" y="2082"/>
<use href="#t" x="352" y="2523"/><use href="#t" x="410" y="2523"/><use href="#t" x="416" y="2523"/><use href="#t" x="434" y="2523"/><use href="#t" x="475" y="2523"/><use href="#t" x="846" y="2523"/><use href="#t" x="982" y="2523"/><use href="#t" x="988" y="2523"/><use href="#t" x="1111" y="2523"/><use href="#t" x="1158" y="2523"/><use href="#t" x="1205" y="2523"/><use href="#t" x="1210" y="2523"/><use href="#t" x="1397" y="2523"/><use href="#t" x="1502" y="2523"/><use href="#t" x="1666" y="2523"/><use href="#t" x="1753" y="2523"/><use href="#t" x="1790" y="2523"/><use href="#t" x="1796" y="2523"/><use href="#t" x="1800" y="2523"/><use href="#t" x="1822" y="2523"/><use href="#t" x="1924" y="2523"/><use href="#t" x="1930" y="2523"/><use href="#t" x="1953" y="2523"/><use href="#t" x="2111" y="2523"/><use href="#t" x="2127" y="2523"/><use href="#t" x="2183" y="2523"/><use href="#t" x="2217" y="2523"/><use href="#t" x="2243" y="2523"/><use href="#t" x="2329" y="2523"/><use href="#t" x="2380" y="2523"/><use href="#t" x="2572" y="2523"/><use href="#t" x="2578" y="2523"/><use href="#t" x="2673" y="2523"/>
</g>
<g id="markers-E">
<use href="#t" x="313" y="2718"/><use href="#t" x="320" y="2718"/><use href="#t" x="771" y="2718"/><use href="#t" x="777" y="2718"/><use href="#t" x="936" y="2718"/><use href="#t" x="1008" y="2718"/><use href="#t" x="1025" y="2718"/><use href="#t" x="1066" y="2718"/><use href="#t" x="1072" y="2718"/><use href="#t" x="1197" y="2718"/><use href="#t" x="1642" y="2718"/><use href="#t" x="1779" y="2718"/><use href="#t" x="2003" y="2718"/><use href="#t" x="2118" y="2718"/><use href="#t" x="2151" y="2718"/><use href="#t" x="2206" y="2718"/><use href="#t" x="2304" y="2718"/><use href="#t" x="2419" y="2718"/><use href="#t" x="2424" y="2718"/><use href="#t" x="2429" y="2718"/><use href="#t" x="2564" y="2718"/><use href="#t" x="2644" y="2718"/><use href="#t" x="2764" y="2718"/>
<use href="#t" x="354" y="3228"/><use href="#t" x="360" y="3228"/><use href="#t" x="383" y="3228"/><use href="#t" x="425" y="3228"/><use href="#t" x="945" y="3228"/><use href="#t" x="1177" y="3228"/><use href="#t" x="1374" y="3228"/><use href="#t" x="1740" y="3228"/><use href="#t" x="1781" y="3228"/><use href="#t" x="1788" y="3228"/><use href="#t" x="1813" y="3228"/><use href="#t" x="1919" y="3228"/><use href="#t" x="1944" y="3228"/><use href="#t" x="2108" y="3228"/><use href="#t" x="2120" y="3228"/><use href="#t" x="2180" y="3228"/><use href="#t" x="2219" y="3228"/><use href="#t" x="2247" y="3228"/><use href="#t" x="2331" y="3228"/><use href="#t" x="2382" y="3228"/><use href="#t" x="2583" y="3228"/><use href="#t" x="2591" y="3228"/><use href="#t" x="2687" y="3228"/>
</g>
</g>
</svg>
